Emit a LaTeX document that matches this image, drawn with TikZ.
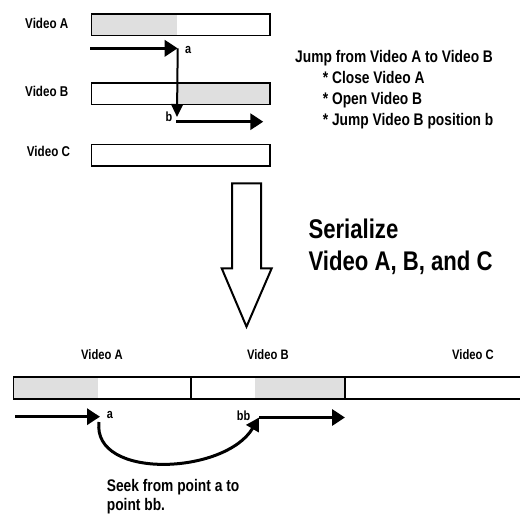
\documentclass[tikz,border=0pt]{standalone}
\usepackage{fontspec}
\setmainfont{Liberation Sans}[FakeStretch=0.82]
\usetikzlibrary{arrows.meta, positioning, backgrounds}

\begin{document}
\begin{tikzpicture}[
  x=1pt, y=-1pt,
  bar/.style={
    draw, line width=1.6pt, inner sep=0pt,
    minimum width=178.7pt, minimum height=21.5pt
  },
  seg/.style={draw, line width=1.6pt, inner sep=0pt, minimum height=22.4pt},
  played/.style={fill=gray!25},
  vlabel/.style={font=\fontsize{14.2}{16}\selectfont\bfseries, inner sep=0pt, anchor=base west},
  slabel/.style={font=\fontsize{13.7}{16}\selectfont\bfseries, inner sep=0pt},
  ptlabel/.style={font=\fontsize{13.3}{15}\selectfont\bfseries, inner sep=0pt, anchor=base west},
  note/.style={font=\fontsize{16.8}{20}\selectfont\bfseries, inner sep=0pt, anchor=base west},
  big/.style={font=\fontsize{27}{32}\selectfont\bfseries, inner sep=0pt, anchor=base west},
  arrow/.style={-{Triangle[length=13pt, width=16pt]}, line width=3.5pt},
  drop/.style={-{Triangle[length=13pt, width=12pt]}, line width=2pt},
  seek/.style={-{Triangle[length=13pt, width=14pt]}, line width=3pt}
]
\clip (0,0) rectangle (520,515);

% Separate videos
\node[bar] (barA) at (180.85,24.7) {};
\node[bar] (barB) at (180.85,93.6) {};
\node[bar] (barC) at (180.85,155.3) {};
\begin{scope}[on background layer]
  \fill[played] (barA.north west) rectangle (176.7,36);
  \fill[played] (177.5,81.7) rectangle (barB.south east);
\end{scope}

\node[vlabel] (nameA) at (25,28.3) {Video A};
\node[vlabel] (nameB) at (25,96.7) {Video B};
\node[vlabel] (nameC) at (26.7,156.7) {Video C};

% Jump from A to B
\coordinate (startA) at (90,48.3);
\coordinate (ptA) at (177.7,48.3);
\coordinate (ptB) at (177,117);
\coordinate (fromB) at (176,121.7);
\coordinate (endB) at (263.3,121.7);
\draw[arrow] (startA) -- (ptA);
\draw[drop] (ptA) -- (ptB);
\draw[arrow] (fromB) -- (endB);
\node[ptlabel] (la) at (185,53.3) {a};
\node[ptlabel] (lb) at (165.5,121.7) {b};

% Steps
\node[note] (jump) at (295,62) {Jump from Video A to Video B};
\node[note] (close) at (322.7,83.3) {* Close Video A};
\node[note] (open) at (322.7,104) {* Open Video B};
\node[note] (pos) at (322.7,125) {* Jump Video B position b};

% Serialize
\draw[line width=2pt, miter limit=10]
  (232,183.3) -- (261,183.3) -- (261,268.3) -- (271.7,268.3)
  -- (246.5,326.7) -- (221.7,268.3) -- (232,268.3) -- cycle;
\node[big] (ser) at (308.3,238.3) {Serialize};
\node[big] (serl) at (308.3,270) {Video A, B, and C};

% Serialized video
\node[seg, minimum width=177.4pt] (segA) at (102,388) {};
\node[seg, minimum width=154.3pt] (segB) at (267.85,388) {};
\node[seg, minimum width=256pt] (segC) at (473,388) {};
\begin{scope}[on background layer]
  \fill[played] (segA.north west) rectangle (97.7,400);
  \fill[played] (255,376) rectangle (segB.south east);
\end{scope}
\node[slabel, above=16pt of segA] (sA) {Video A};
\node[slabel, above=16pt of segB] (sB) {Video B};
\node[slabel, above=16pt of segC] (sC) {Video C};

% Seek
\coordinate (startS) at (15,416.7);
\coordinate (ptS) at (100,416.7);
\coordinate (ptS2) at (99,422);
\coordinate (ptBB) at (259,417.5);
\coordinate (endS) at (345,417.5);
\draw[arrow] (startS) -- (ptS);
\draw[seek] (ptS2) .. controls (92,480) and (225,475) .. (ptBB);
\draw[arrow] (ptBB) -- (endS);
\node[ptlabel] (sa) at (106.7,418.3) {a};
\node[ptlabel] (sbb) at (236.7,420) {bb};

\node[note] (seek1) at (106.7,491.7) {Seek from point a to};
\node[note] (seek2) at (106.7,510) {point bb.};

\end{tikzpicture}
\end{document}
